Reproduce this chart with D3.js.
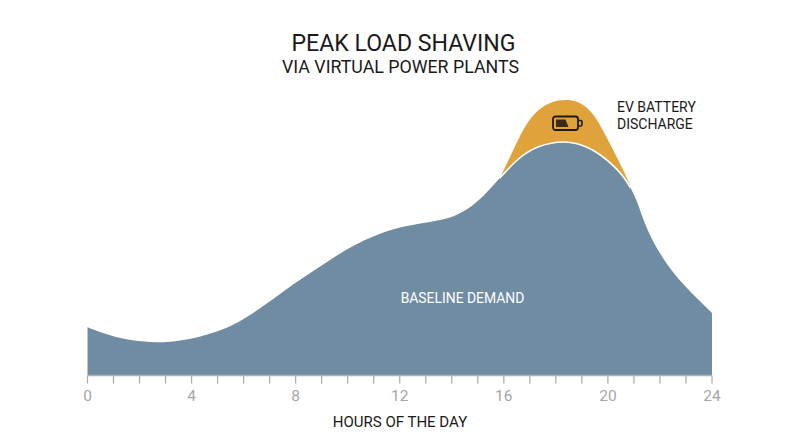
<!DOCTYPE html>
<html><head><meta charset="utf-8">
<script src="https://cdn.jsdelivr.net/npm/d3@7"></script>
<style>html,body{margin:0;background:#fff}svg{display:block}text{font-family:Roboto,sans-serif}</style>
</head><body><svg id="c" width="800" height="447"></svg>
<script>
const hours=[0,0.67,1.44,2.48,3.09,4.13,5.02,5.78,6.55,7.47,8.36,9.32,10.2,11.13,12.01,12.89,13.93,14.59,15.2,15.85,16.54,17.31,18.35,19.24,20,20.66,21.12,21.35,21.73,22.27,22.89,24];
const demand=[16.07,13.9,11.9,11.0,11.0,12.4,14.6,17.5,21.83,27.7,33.0,38.6,43.3,47.0,49.5,50.83,52.3,55.17,59.5,65.83,72.5,76.7,78.5,76.4,71.83,66.17,58.5,51.83,44.5,36.83,30.17,20.83];
const dischargeHours=[15.85,16.31,16.81,17.31,17.85,18.43,19,19.5,20,20.54,20.85];
const dischargeTop=[65.83,74.17,83.5,88.8,91.4,92.1,91,86.83,78.5,69.5,63.5];
const majorTicks=[0,4,8,12,16,20,24];
const minorTicks=d3.range(0,25);
const title="PEAK LOAD SHAVING",subtitle="VIA VIRTUAL POWER PLANTS",xLabel="HOURS OF THE DAY",areaLabel="BASELINE DEMAND",evLabel=["EV BATTERY","DISCHARGE"];

const svg=d3.select("#c");
const x=d3.scaleLinear().domain([0,24]).range([87.5,712]);
const y=d3.scaleLinear().domain([0,100]).range([375.5,75.5]);
const base=hours.map((h,i)=>[h,demand[i]]);
const top_=dischargeHours.map((h,i)=>[h,dischargeTop[i]]);
const curve=d3.curveBasis;
svg.append("clipPath").attr("id","seam").append("rect")
  .attr("x",x(dischargeHours[0])).attr("width",x(dischargeHours[dischargeHours.length-1])-x(dischargeHours[0]))
  .attr("y",0).attr("height",447);
svg.append("path").attr("fill","#e0a33c")
  .attr("d",d3.area().x(d=>x(d[0])).y0(y(40)).y1(d=>y(d[1])).curve(curve)(top_));
svg.append("path").attr("fill","#6f8ca3")
  .attr("d",d3.area().x(d=>x(d[0])).y0(y(0)).y1(d=>y(d[1])).curve(curve)(base));
svg.append("path").attr("fill","none").attr("stroke","#fff").attr("stroke-width",1.6).attr("clip-path","url(#seam)")
  .attr("d",d3.line().x(d=>x(d[0])).y(d=>y(d[1])).curve(curve)(base));

const ax=svg.append("g").attr("transform",`translate(0,${y(0)})`);
ax.append("line").attr("x1",x(0)).attr("x2",x(24)).attr("stroke","#b0b0b0").attr("stroke-width",1.5);
ax.selectAll("line.t").data(minorTicks).join("line").attr("class","t")
  .attr("x1",d=>x(d)).attr("x2",d=>x(d)).attr("y1",0).attr("y2",8).attr("stroke","#a8a8a8").attr("stroke-width",1.2);
ax.selectAll("text").data(majorTicks).join("text").attr("x",d=>x(d)).attr("y",25.5)
  .attr("text-anchor","middle").attr("font-size",15.5).attr("fill","#a6a6a6").text(d=>d);

const t=(s,xp,yp,fs,fill,a="middle")=>svg.append("text").attr("x",xp).attr("y",yp).attr("font-size",fs).attr("fill",fill).attr("text-anchor",a).text(s);
t(title,403.5,51,23.1,"#1a1a1a");
t(subtitle,400.5,73,17.8,"#1a1a1a");
t(xLabel,400,427,15,"#1a1a1a");
t(areaLabel,462.5,303,13.9,"#fff");
t(evLabel[0],617,112,14,"#1a1a1a","start");
t(evLabel[1],617,129,14,"#1a1a1a","start");

const b=svg.append("g").attr("transform","translate(553,116.5)");
b.append("rect").attr("width",25).attr("height",13.5).attr("rx",2.5).attr("fill","none").attr("stroke","#1f1a14").attr("stroke-width",1.8);
b.append("path").attr("d","M3 3H12.5L15.5 10.5H3Z").attr("fill","#3a2a14");
b.append("path").attr("d","M25.5 4H27.5Q29 4 29 5.5V8Q29 9.5 27.5 9.5H25.5").attr("fill","none").attr("stroke","#1f1a14").attr("stroke-width",1.6);
</script></body></html>
